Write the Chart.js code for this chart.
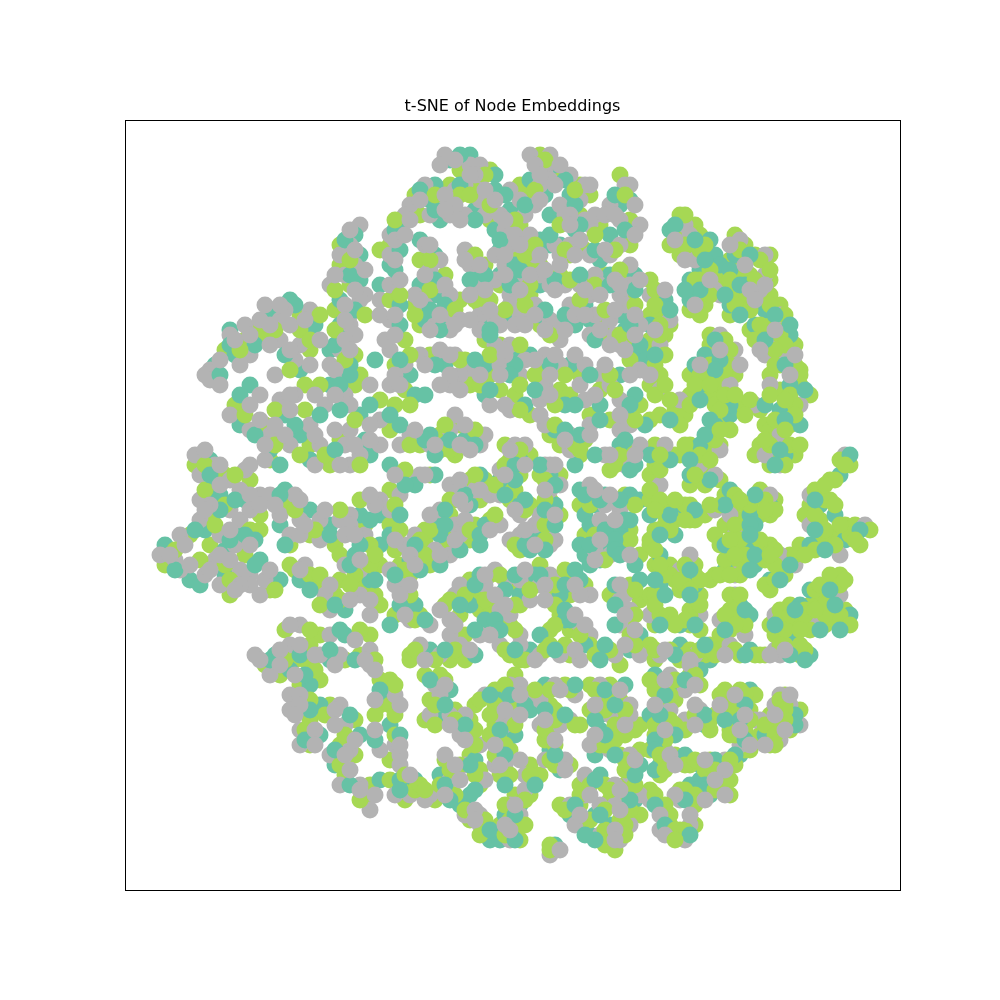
<!DOCTYPE html>
<html>
<head>
<meta charset="utf-8">
<title>t-SNE of Node Embeddings</title>
<script src="https://cdn.jsdelivr.net/npm/chart.js@4.4.1/dist/chart.umd.min.js"></script>
<style>
  html, body { margin: 0; padding: 0; background: #fff; }
  #wrap { width: 1000px; height: 1000px; }
</style>
</head>
<body>
<div id="wrap"><canvas id="tsne" width="1000" height="1000"></canvas></div>
<script>
// t-SNE coordinates, one list per node class
const tealNodes = [
  [-31,54],[-30,50],[-30,45],[-34,41],[-34,36],[-36,31],[-32,28],[-59,28],[-56,35],[-55,30],[-48,39],[-44,41],[-41,34],[-42,27],[-26,44],
  [-12,69],[-8,70],[-3,66],[-15,64],[-16,61],[-14,57],[-22,56],[-24,48],[-7,59],[-3,63],[0,59],[-3,55],[9,68],[4,65],[7,62],[12,62],[8,58],[13,55],[22,60],[24,61],[20,54],[18,49],[10,52],[-18,53],[-15,50],[-18,44],[-15,42],[-13,37],[-17,37],[-7,46],[-2,51],[-2,46],[1,45],[6,53],[6,44],[8,52],[-5,37],[-2,38],[0,37],[6,38],[10,34],[13,36],[15,40],[20,46],[25,46],[22,38],[16,37],[23,35],[26,30],[-20,26],[-13,28],[-5,28],[2,30],[4,30],[12,28],[22,26],[-23,55],[-22,40],
  [31,41],[28,36],[28,28],[32,55],[40,53],[41,50],[36,45],[38,47],[36,41],[42,48],[45,50],[44,47],[47,44],[44,40],[51,39],[56,34],[56,28],[49,36],[39,30],[37,28],
  [-52,24],[-54,16],[-48,11],[-45,18],[-42,14],[-40,9],[-36,24],[-30,18],[-29,13],[-28,10],[-60,9],[-60,3],[-58,2],[-61,-5],[-69,-8],[-64,-15],[-57,-9],[-53,1],[-54,-6],[-57,-14],[-50,-11],[-46,-15],[-45,3],[-46,-4],[-40,-1],[-36,-4],[-30,-2],[-26,-2],[-42,-15],[-33,-21],[-31,-10],[-28,-15],[-26,-8],[-33,-26],
  [-19,22],[-5,22],[3,20],[11,20],[18,20],[25,22],[-24,18],[-16,14],[-9,13],[-13,12],[9,15],[13,8],[22,12],[25,8],[2,9],[-2,5],[8,6],[9,0],[-24,8],[-15,6],[-24,-6],[-6,6],[-8,0],[2,0],[-15,-3],[-14,-6],[-5,-4],[-6,-8],[-20,-11],[-18,-13],[5,-6],[4,-9],[14,3],[18,2],[15,-2],[17,0],[21,1],[24,2],[26,1],[24,-3],[22,-5],[20,-4],[16,-4],[14,-8],[15,-10],[19,-8],[22,-8],[23,-7],[18,-11],[25,-12],[-19,-20],[-24,-24],[-6,-14],[-8,-20],[-5,-23],[2,-18],[5,-14],[14,-15],[10,-18],[11,-23],[6,-26],[26,-15],[26,-26],
  [27,16],[38,24],[41,16],[38,12],[36,6],[44,18],[44,20],[28,10],[28,-2],[33,-6],[56,24],[54,19],[58,16],[55,10],[34,-1],[44,3],[48,-2],[52,0],[49,-4],[48,-8],[43,-13],[49,-12],[66,6],[62,0],[65,-2],[67,-7],[60,-8],[52,-15],[30,-10],[35,-15],[37,-16],[34,-24],[30,-16],[46,-20],[48,-22],[60,-17],[68,-22],[58,-20],[54,-24],[57,-26],
  [-47,-30],[-44,-33],[-40,-36],[-38,-40],[-38,-46],[-30,-46],[-35,-52],[-26,-55],[-36,-31],[-26,-38],
  [-16,-29],[-7,-30],[4,-29],[15,-28],[24,-29],[-24,-44],[-22,-55],[-19,-55],[-12,-37],[-14,-43],[-10,-44],[-7,-51],[-14,-54],[-8,-58],[-10,-60],[-4,-67],[-2,-39],[-2,-50],[1,-46],[4,-41],[-1,-62],[2,-60],[-2,-67],[7,-36],[8,-42],[8,-49],[10,-53],[9,-68],[23,-36],[18,-42],[18,-45],[17,-50],[26,-52],[18,-54],[12,-62],[17,-62],[25,-59],[20,-64],[16,-66],
  [34,-28],[40,-31],[48,-29],[57,-29],[60,-30],[29,-34],[34,-36],[38,-33],[31,-40],[28,-42],[32,-46],[39,-44],[48,-37],[44,-42],[45,-44],[54,-44],[30,-52],[38,-52],[46,-50],[43,-57],[40,-56],[38,-55],[36,-56],[36,-59],[40,-58],[31,-62],
  // second pass, denser strands
  [-33,53],[-32,46],[-31,39],[-35,32],[-32,26],[-56,32],[-51,32],[-43,40],[-39,36],[-45,30],[-58,26],[-27,29],
  [-10,70],[-10,64],[-18,63],[-15,59],[-22,51],[-1,62],[-2,53],[-7,57],[11,65],[3,60],[13,60],[14,56],[21,62],[23,55],[17,51],[8,54],[-15,45],[-16,39],[-14,35],[-13,40],[-5,46],[1,48],[0,44],[2,47],[9,45],[-8,45],[-4,35],[-4,34],[7,39],[11,38],[14,46],[20,44],[25,43],[24,36],[17,33],[26,32],[-22,29],[-15,28],[-7,29],[1,28],[8,28],[16,26],[0,26],[-23,47],[-22,36],
  [32,39],[29,30],[33,56],[37,53],[39,49],[38,43],[35,43],[48,50],[46,44],[43,42],[46,38],[53,38],[56,36],[55,28],[51,33],[41,33],[42,29],[41,27],
  [-54,22],[-51,14],[-46,8],[-43,16],[-38,18],[-34,19],[-35,11],[-28,20],[-34,24],[-60,6],[-58,-1],[-63,-5],[-67,-13],[-62,-16],[-56,-7],[-55,1],[-53,-6],[-51,-12],[-51,-7],[-46,2],[-45,-8],[-36,-6],[-28,-3],[-40,-17],[-35,-20],[-32,-12],[-27,-15],[-30,-8],[-34,-25],
  [-17,22],[-4,23],[5,23],[13,20],[24,20],[18,17],[-22,16],[-17,13],[-12,13],[-7,12],[-15,10],[11,15],[14,14],[17,10],[23,13],[24,7],[1,8],[1,5],[6,8],[9,4],[7,-1],[9,-4],[-19,4],[-22,-2],[-21,4],[-9,2],[-1,2],[3,1],[-13,-1],[-19,-8],[-13,-4],[-6,-6],[-10,-9],[-14,-12],[-23,-14],[3,-8],[7,-9],[15,2],[19,2],[18,1],[22,1],[23,-3],[19,-5],[16,-8],[21,-7],[21,-9],[16,-12],[22,-10],[-22,-20],[-17,-23],[-10,-20],[-7,-16],[-1,-17],[-3,-23],[1,-14],[6,-14],[11,-16],[13,-13],[11,-21],[12,-23],[21,-16],[21,-20],[21,-24],[-2,-25],[-7,-25],
  [32,17],[38,21],[40,17],[39,14],[36,9],[40,5],[51,20],[32,9],[32,-2],[30,-6],[59,23],[55,17],[54,11],[53,8],[37,-1],[43,0],[49,2],[48,-4],[48,-6],[49,-10],[43,-8],[48,-13],[68,10],[61,1],[61,-5],[70,-5],[63,-9],[56,-12],[54,-15],[29,-15],[36,-13],[36,-18],[37,-24],[30,-24],[31,-18],[47,-21],[43,-25],[64,-17],[65,-20],[66,-25],[57,-21],[53,-24],[62,-25],
  [-48,-31],[-42,-30],[-36,-29],[-41,-34],[-40,-41],[-41,-47],[-32,-42],[-35,-49],[-32,-56],[-31,-31],[-26,-37],[-27,-47],
  [-13,-29],[1,-29],[9,-29],[19,-28],[18,-31],[-22,-46],[-22,-57],[-16,-35],[-13,-40],[-9,-44],[-8,-52],[-13,-56],[-7,-57],[-12,-59],[-4,-65],[-4,-38],[-2,-45],[-1,-50],[-1,-56],[3,-40],[0,-38],[1,-62],[1,-67],[5,-56],[7,-41],[11,-42],[9,-50],[13,-36],[19,-37],[21,-40],[17,-43],[19,-46],[21,-50],[25,-54],[17,-55],[13,-60],[18,-62],[24,-59],[17,-67],[15,-66],
  [33,-30],[39,-28],[47,-30],[56,-30],[59,-31],[35,-35],[31,-38],[30,-42],[33,-46],[39,-42],[29,-47],[47,-40],[43,-43],[46,-43],[47,-47],[57,-42],[57,-44],[51,-46],[29,-49],[29,-53],[35,-50],[41,-51],[45,-50],[39,-56],[39,-57],[37,-57],[35,-59],[29,-60],[31,-64],[36,-66]
];

const limeNodes = [
  [-34,52],[-34,48],[-32,44],[-35,39],[-34,34],[-31,30],[-30,26],[-57,31],[-53,33],[-50,36],[-49,34],[-42,38],[-40,31],[-26,51],
  [-10,67],[-4,67],[-12,64],[-19,62],[-12,60],[-18,58],[-24,52],[-7,63],[-4,57],[2,64],[2,56],[6,70],[10,66],[4,62],[14,64],[16,62],[14,58],[18,56],[22,66],[24,57],[24,52],[15,51],[12,50],[-18,49],[-13,46],[-19,40],[-10,41],[-18,36],[-8,49],[-5,48],[1,50],[-2,44],[4,48],[6,48],[10,46],[-6,40],[-5,33],[2,40],[4,42],[6,36],[12,37],[16,45],[19,46],[23,46],[24,42],[18,37],[19,34],[24,32],[-23,28],[-16,30],[-9,29],[-2,32],[0,29],[6,28],[14,26],[-4,26],[-24,41],
  [28,45],[30,41],[28,38],[30,38],[32,36],[28,33],[31,34],[28,31],[30,26],[34,58],[37,56],[32,52],[34,54],[38,54],[36,52],[34,50],[40,50],[37,43],[36,39],[39,40],[41,46],[45,54],[47,52],[44,49],[49,50],[52,50],[46,46],[43,44],[45,43],[48,46],[50,45],[52,45],[44,38],[47,41],[50,41],[52,42],[54,40],[55,36],[57,32],[56,30],[54,28],[58,27],[58,26],[50,34],[48,35],[52,36],[52,26],[40,34],[40,32],[41,30],[44,29],[43,31],[36,26],[39,26],[45,26],
  [-55,20],[-49,16],[-48,9],[-41,19],[-40,12],[-41,24],[-31,24],[-34,13],[-36,8],[-26,21],[-63,8],[-57,6],[-60,-2],[-64,-6],[-69,-12],[-60,-8],[-52,5],[-50,-2],[-53,-10],[-56,-18],[-48,-17],[-50,-5],[-44,0],[-44,-8],[-40,-6],[-35,-8],[-29,-4],[-43,-13],[-39,-16],[-35,-18],[-34,-15],[-34,-10],[-29,-16],[-26,-12],[-26,-20],[-45,-25],[-38,-26],[-28,-26],
  [-21,23],[-23,20],[-8,24],[-2,23],[1,22],[4,18],[10,23],[12,22],[16,18],[18,23],[23,19],[26,20],[20,17],[-24,15],[-18,12],[-14,14],[-10,16],[-8,14],[-11,10],[-14,11],[8,14],[10,12],[14,10],[15,13],[21,9],[24,11],[20,7],[-1,12],[4,10],[0,9],[2,6],[-1,3],[6,6],[10,6],[8,1],[10,-2],[8,-3],[-22,6],[-16,6],[-24,3],[-24,-4],[-23,-9],[-8,5],[-5,5],[-11,1],[-6,1],[0,1],[4,0],[-12,-2],[-17,-5],[-17,-7],[-12,-6],[-7,-4],[-4,-3],[-8,-7],[-13,-8],[-18,-10],[-22,-12],[-20,-14],[-16,-12],[4,-7],[6,-6],[2,-9],[6,-8],[14,0],[23,2],[24,-5],[15,-6],[20,-6],[26,-10],[-21,-18],[-18,-22],[-23,-22],[-13,-20],[-8,-15],[-4,-14],[-7,-18],[-10,-22],[-6,-21],[-4,-20],[2,-20],[0,-16],[4,-15],[6,-12],[12,-14],[15,-16],[12,-18],[8,-18],[10,-22],[12,-25],[8,-25],[20,-18],[24,-16],[26,-19],[24,-24],[0,-24],[-9,-26],
  [28,24],[28,17],[33,19],[35,18],[36,22],[40,22],[42,24],[43,17],[40,14],[42,12],[40,11],[36,12],[34,10],[39,7],[36,4],[38,5],[42,5],[46,20],[47,20],[50,19],[29,12],[33,10],[29,8],[28,6],[28,1],[31,-2],[34,-2],[31,-4],[29,-5],[28,-7],[54,23],[58,24],[60,22],[56,20],[51,16],[52,15],[56,16],[50,12],[49,10],[53,10],[57,10],[52,8],[32,0],[36,0],[39,-2],[43,2],[45,0],[47,0],[46,-3],[50,-2],[50,3],[53,1],[52,-2],[43,-4],[47,-5],[41,-6],[42,-8],[46,-9],[50,-9],[52,-8],[45,-12],[41,-14],[40,-15],[47,-12],[68,8],[64,5],[62,3],[60,0],[64,1],[59,-2],[62,-3],[67,-4],[69,-4],[70,-8],[65,-6],[64,-8],[62,-7],[58,-8],[56,-10],[54,-13],[52,-17],[55,-14],[28,-8],[29,-12],[32,-12],[33,-15],[37,-14],[37,-12],[34,-17],[38,-18],[37,-20],[36,-24],[31,-23],[29,-24],[28,-18],[38,-25],[44,-21],[46,-23],[44,-25],[42,-26],[66,-14],[63,-16],[62,-19],[64,-19],[67,-21],[67,-24],[64,-22],[60,-20],[56,-20],[55,-22],[52,-24],[56,-24],[58,-23],[63,-24],[53,-26],
  [-49,-32],[-46,-34],[-43,-31],[-40,-28],[-38,-35],[-42,-36],[-41,-40],[-40,-43],[-40,-48],[-36,-40],[-31,-43],[-34,-48],[-31,-50],[-33,-54],[-28,-56],[-29,-59],[-33,-31],[-30,-30],[-26,-35],[-26,-40],
  [-20,-30],[-20,-31],[-12,-31],[-9,-31],[0,-30],[2,-31],[8,-28],[12,-30],[16,-28],[22,-32],[-24,-35],[-24,-40],[-24,-51],[-24,-55],[-20,-56],[-21,-59],[-17,-34],[-13,-35],[-16,-39],[-17,-43],[-11,-41],[-8,-43],[-8,-46],[-8,-50],[-11,-54],[-13,-51],[-6,-53],[-6,-56],[-15,-59],[-14,-58],[-8,-63],[-5,-65],[-7,-40],[-3,-37],[-3,-44],[-2,-47],[-2,-54],[0,-49],[2,-40],[4,-38],[1,-34],[-2,-64],[1,-58],[4,-58],[1,-65],[2,-67],[4,-52],[6,-54],[11,-36],[8,-40],[8,-45],[7,-47],[9,-52],[12,-52],[14,-44],[8,-68],[16,-36],[20,-36],[22,-39],[16,-41],[22,-43],[26,-44],[23,-46],[18,-48],[22,-50],[26,-49],[23,-56],[19,-56],[14,-56],[14,-60],[10,-60],[15,-64],[20,-59],[23,-60],[26,-62],[22,-63],[20,-67],[21,-69],
  [28,-28],[29,-31],[36,-29],[34,-31],[39,-30],[40,-28],[42,-29],[46,-30],[50,-30],[51,-30],[55,-28],[59,-29],[30,-36],[36,-34],[38,-36],[30,-38],[33,-39],[30,-41],[30,-44],[29,-46],[34,-45],[36,-44],[38,-42],[40,-45],[42,-38],[46,-37],[49,-38],[45,-40],[41,-42],[46,-41],[48,-41],[44,-45],[47,-45],[46,-47],[48,-49],[55,-38],[52,-42],[54,-42],[58,-41],[56,-43],[56,-45],[52,-44],[50,-46],[52,-47],[52,-48],[28,-49],[33,-50],[32,-52],[30,-54],[36,-52],[40,-51],[42,-52],[45,-52],[47,-49],[40,-54],[44,-55],[44,-58],[42,-56],[34,-57],[37,-60],[28,-57],[30,-60],[32,-64],[32,-66],[34,-65],[37,-64],
  // second pass, denser strands
  [-32,49],[-35,43],[-35,35],[-33,29],[-29,38],[-54,31],[-47,35],[-42,35],[-40,33],[-44,27],[-38,38],
  [-5,66],[-15,62],[-10,62],[-23,57],[-4,60],[1,57],[-8,62],[7,69],[5,63],[13,63],[10,56],[17,54],[23,62],[21,51],[11,51],[-16,49],[-16,43],[-11,39],[-19,38],[-7,50],[-4,41],[3,50],[4,44],[5,52],[12,45],[-7,41],[-1,39],[3,40],[8,34],[14,41],[17,44],[22,47],[25,40],[19,39],[22,34],[24,29],[-20,30],[-10,29],[-4,30],[2,32],[11,26],[20,26],[5,26],[-22,42],[-21,33],
  [29,43],[29,40],[30,36],[30,34],[31,30],[29,28],[35,58],[35,52],[39,52],[38,51],[38,45],[37,45],[40,42],[38,38],[40,47],[46,51],[50,49],[44,45],[49,45],[52,47],[46,42],[45,40],[48,39],[52,40],[55,38],[54,34],[55,32],[53,31],[57,28],[50,36],[53,28],[49,33],[43,33],[40,28],[44,31],[38,26],[43,27],
  [-53,18],[-47,12],[-47,19],[-42,10],[-38,24],[-37,10],[-31,17],[-30,8],[-61,8],[-61,3],[-59,-4],[-67,-9],[-62,-11],[-57,-12],[-55,6],[-52,-5],[-56,-15],[-47,-17],[-57,0],[-43,-1],[-39,-5],[-34,-1],[-30,1],[-44,-12],[-40,-14],[-38,-14],[-38,-20],[-34,-19],[-31,-14],[-32,-16],[-28,-12],[-27,-18],[-28,-8],[-27,-10],[-40,-25],[-30,-25],
  [-20,20],[-6,24],[2,24],[9,20],[21,23],[25,17],[2,19],[-20,12],[-13,16],[-7,15],[-12,11],[9,16],[13,12],[14,11],[22,10],[21,8],[2,11],[-1,8],[1,3],[7,5],[7,1],[7,-4],[-21,7],[-23,0],[-22,-5],[-7,6],[-3,4],[3,-1],[-12,1],[-16,-5],[-18,-7],[-8,-5],[-3,-2],[-17,-10],[-21,-13],[1,-8],[7,-7],[16,0],[25,0],[17,-6],[24,-7],[19,-11],[-20,-18],[-19,-23],[-12,-19],[-9,-18],[-2,-14],[-5,-19],[1,-20],[4,-17],[9,-16],[11,-13],[9,-20],[9,-24],[14,-26],[25,-17],[25,-22],[24,-26],[1,-25],
  [29,22],[30,18],[34,16],[37,24],[36,20],[41,20],[42,19],[44,15],[38,10],[41,13],[35,12],[39,4],[43,22],[48,21],[47,18],[30,7],[28,3],[30,1],[33,-3],[36,-3],[32,-5],[56,22],[57,20],[53,17],[57,18],[52,12],[56,12],[51,13],[55,8],[35,0],[37,-3],[42,0],[45,2],[48,0],[51,1],[53,-1],[45,-4],[46,-7],[50,-7],[53,-9],[47,-10],[43,-11],[42,-14],[46,-14],[51,-11],[66,9],[65,5],[61,3],[63,1],[61,-2],[63,-5],[68,-6],[72,-5],[65,-8],[61,-9],[57,-10],[53,-12],[51,-16],[29,-9],[31,-14],[32,-14],[35,-12],[38,-15],[35,-16],[36,-21],[36,-22],[35,-23],[32,-22],[30,-22],[29,-18],[44,-18],[45,-21],[43,-22],[47,-24],[64,-14],[66,-16],[61,-17],[63,-20],[66,-22],[65,-23],[63,-22],[59,-21],[54,-21],[54,-23],[55,-25],[60,-25],[59,-22],
  [31,24],[32,21],[40,24],[42,15],[40,9],[37,6],[45,22],[30,10],[29,-1],[35,-3],[52,22],[55,21],[55,15],[58,12],[33,1],[40,0],[46,1],[51,-1],[44,-7],[52,-10],[45,-10],[44,-14],[67,8],[63,4],[65,0],[66,-4],[69,-7],[59,-10],[53,-15],[30,-12],[34,-15],[36,-17],[38,-20],[33,-24],[29,-20],[46,-18],[45,-24],[67,-15],[62,-16],[68,-24],[61,-21],[56,-22],[58,-25],
  [-45,-31],[-41,-31],[-39,-33],[-40,-39],[-41,-45],[-37,-42],[-33,-46],[-34,-52],[-30,-59],[-27,-31],[-27,-42],
  [-19,-29],[-15,-31],[-11,-29],[-1,-29],[3,-31],[7,-29],[11,-28],[17,-30],[20,-29],[25,-28],[-23,-36],[-23,-42],[-23,-46],[-21,-54],[-19,-57],[-18,-56],[-14,-34],[-15,-40],[-15,-44],[-11,-43],[-7,-45],[-7,-48],[-10,-52],[-12,-53],[-14,-56],[-7,-54],[-11,-58],[-17,-57],[-9,-61],[-5,-63],[-6,-66],[-6,-39],[-3,-40],[-4,-42],[-4,-46],[-1,-48],[-3,-50],[0,-54],[1,-44],[1,-40],[5,-37],[-1,-36],[-1,-60],[0,-63],[3,-59],[3,-64],[-1,-66],[4,-54],[8,-37],[12,-37],[9,-41],[9,-43],[7,-45],[9,-48],[8,-51],[13,-44],[8,-69],[17,-37],[21,-37],[20,-39],[23,-41],[19,-41],[21,-44],[25,-45],[21,-47],[19,-48],[23,-51],[23,-53],[25,-56],[20,-57],[16,-56],[14,-58],[11,-61],[16,-63],[19,-61],[24,-61],[23,-64],[19,-65],[19,-68],[23,-66],
  [29,-29],[32,-29],[35,-30],[38,-29],[41,-30],[45,-29],[49,-30],[54,-28],[58,-30],[58,-28],[28,-35],[33,-35],[37,-34],[29,-37],[32,-38],[32,-43],[29,-44],[33,-44],[35,-45],[37,-42],[40,-43],[31,-47],[43,-37],[47,-38],[44,-40],[42,-42],[45,-42],[48,-43],[47,-44],[45,-46],[44,-46],[54,-39],[55,-40],[55,-41],[55,-43],[53,-44],[51,-44],[53,-46],[53,-48],[30,-50],[31,-51],[31,-53],[35,-52],[37,-51],[39,-53],[41,-53],[44,-51],[43,-55],[41,-57],[35,-57],[37,-58],[29,-58],[31,-60],[32,-62],[33,-65],[35,-65],[33,-67]
];

const grayNodes = [
  [-30,56],[-32,52],[-34,50],[-31,48],[-33,46],[-36,44],[-29,42],[-30,41],[-32,38],[-32,36],[-31,34],[-34,31],[-36,28],[-34,26],[-60,27],[-61,26],[-56,34],[-53,36],[-52,30],[-54,28],[-50,37],[-49,40],[-46,33],[-46,37],[-40,39],[-42,32],[-43,29],[-47,26],[-26,41],
  [-13,70],[-14,68],[-8,68],[-6,68],[-6,66],[-9,64],[-11,63],[-17,64],[-20,60],[-14,61],[-12,58],[-16,58],[-21,58],[-24,54],[-24,50],[-9,58],[-6,61],[-5,58],[-2,58],[0,63],[2,61],[3,58],[-1,55],[4,70],[8,70],[7,67],[12,66],[6,64],[5,60],[8,65],[15,64],[14,61],[10,60],[11,58],[15,57],[16,56],[20,60],[23,64],[24,64],[22,57],[26,56],[22,52],[20,50],[16,50],[12,52],[9,52],[10,50],[-17,52],[-16,47],[-14,49],[-14,44],[-19,42],[-17,40],[-12,42],[-12,38],[-15,36],[-12,35],[-9,51],[-8,48],[-6,44],[-3,50],[0,52],[-1,48],[-3,45],[0,42],[3,46],[5,50],[4,54],[6,46],[8,44],[11,44],[-7,43],[-6,38],[-6,35],[-3,37],[0,40],[2,38],[-2,36],[5,40],[8,37],[9,36],[10,33],[12,40],[14,44],[16,42],[17,46],[18,44],[22,42],[24,48],[24,44],[23,40],[20,37],[17,38],[16,34],[21,34],[22,32],[26,36],[-24,31],[-21,28],[-18,30],[-14,31],[-11,30],[-8,27],[-3,32],[0,32],[3,29],[-2,28],[7,30],[10,28],[15,28],[18,26],[2,26],[-10,26],[-24,44],[-24,37],
  [28,42],[32,37],[30,32],[35,56],[36,54],[37,49],[39,44],[41,43],[46,53],[51,50],[42,42],[51,46],[50,43],[54,38],[54,30],[52,33],[51,30],[42,34],[45,31],[42,26],
  [-60,25],[-50,22],[-56,18],[-52,15],[-48,14],[-49,9],[-46,21],[-43,22],[-40,16],[-44,12],[-38,12],[-39,8],[-37,20],[-33,22],[-32,20],[-32,15],[-33,12],[-30,10],[-32,8],[-26,17],[-26,12],[-63,10],[-59,8],[-62,6],[-62,1],[-56,5],[-56,-1],[-62,-3],[-58,-6],[-66,-6],[-70,-10],[-66,-13],[-67,-11],[-59,-11],[-53,7],[-54,3],[-50,2],[-54,-3],[-55,-8],[-54,-13],[-58,-16],[-52,-14],[-49,-15],[-50,-18],[-52,-16],[-48,2],[-43,2],[-46,-2],[-44,-6],[-42,-3],[-38,-3],[-38,-7],[-34,-3],[-32,-2],[-32,-4],[-26,1],[-41,-12],[-37,-18],[-36,-21],[-33,-12],[-30,-13],[-30,-18],[-28,-22],[-29,-6],[-42,-24],[-36,-26],
  [-24,24],[-12,24],[-10,23],[-4,20],[0,19],[6,21],[7,24],[14,24],[15,21],[20,24],[22,21],[24,16],[22,15],[-22,12],[-20,14],[-12,15],[-11,18],[-6,12],[-5,14],[-16,12],[7,16],[12,14],[12,11],[16,16],[19,10],[26,12],[23,8],[1,12],[3,12],[-2,7],[0,6],[7,8],[8,8],[10,4],[8,3],[6,-2],[5,-4],[-20,5],[-18,6],[-22,2],[-24,-1],[-12,4],[-10,3],[-7,3],[-9,0],[-4,2],[-2,2],[2,-2],[-14,-1],[-19,-6],[-21,-8],[-11,-4],[-9,-3],[-2,-4],[-10,-6],[-12,-10],[-15,-9],[-24,-13],[-22,-15],[0,-7],[2,-6],[8,-5],[9,-7],[8,-8],[16,4],[19,0],[22,-1],[18,-3],[17,-9],[20,-10],[-23,-16],[-16,-24],[-20,-23],[-11,-18],[-10,-16],[-3,-13],[-5,-16],[-12,-23],[-12,-26],[-2,-21],[0,-22],[-1,-15],[2,-15],[8,-14],[10,-15],[16,-18],[14,-18],[6,-16],[4,-19],[14,-24],[16,-26],[22,-19],[23,-18],[24,-21],[22,-24],[2,-26],[-6,-26],
  [30,23],[34,21],[44,24],[42,11],[38,8],[41,6],[49,20],[31,12],[30,4],[36,-1],[52,24],[58,20],[54,14],[51,10],[54,8],[41,-1],[44,-2],[52,2],[45,-6],[44,-10],[54,-10],[45,-14],[67,10],[60,2],[60,-4],[71,-4],[66,-10],[55,-11],[57,-12],[34,-13],[36,-10],[38,-22],[28,-22],[45,-18],[42,-23],[47,-26],[65,-16],[66,-18],[62,-22],[53,-22],[60,-23],
  [-51,-30],[-48,-34],[-44,-28],[-40,-32],[-38,-30],[-44,-38],[-44,-41],[-42,-45],[-42,-48],[-34,-40],[-33,-44],[-36,-50],[-32,-49],[-34,-56],[-30,-56],[-28,-61],[-34,-30],[-28,-29],[-28,-32],[-26,-49],
  [-18,-28],[-14,-30],[-10,-28],[-2,-28],[2,-28],[6,-30],[10,-30],[14,-31],[21,-30],[26,-30],[-23,-38],[-23,-48],[-22,-52],[-23,-58],[-20,-58],[-22,-50],[-15,-36],[-14,-38],[-16,-42],[-12,-42],[-9,-42],[-10,-46],[-6,-48],[-9,-52],[-12,-55],[-13,-50],[-5,-55],[-16,-58],[-17,-59],[-9,-62],[-6,-64],[-6,-62],[-5,-38],[-2,-42],[-1,-44],[-3,-52],[-1,-52],[0,-42],[3,-38],[0,-36],[2,-36],[0,-60],[3,-57],[2,-62],[0,-67],[2,-51],[3,-54],[9,-36],[6,-39],[6,-44],[10,-44],[7,-51],[11,-51],[12,-43],[13,-38],[8,-70],[18,-36],[18,-38],[24,-40],[20,-42],[24,-42],[20,-46],[16,-48],[20,-49],[24,-50],[24,-54],[21,-56],[15,-54],[15,-58],[12,-60],[13,-64],[18,-60],[21,-60],[26,-58],[24,-64],[18,-66],[22,-67],
  [30,-30],[37,-30],[44,-28],[53,-29],[54,-30],[32,-34],[36,-32],[35,-37],[32,-41],[31,-43],[35,-43],[38,-41],[44,-38],[43,-40],[49,-43],[46,-48],[54,-38],[53,-40],[56,-40],[58,-44],[50,-43],[54,-47],[31,-49],[34,-51],[43,-51],[42,-54],[34,-59],[38,-58],[28,-59],[30,-65],[34,-66],[36,-64],[35,-67],
  // second pass, denser strands
  [-32,55],[-31,51],[-35,46],[-31,43],[-33,40],[-33,37],[-33,33],[-32,31],[-35,27],[-29,47],[-58,29],[-55,33],[-52,34],[-48,36],[-45,39],[-44,36],[-41,37],[-38,33],[-44,31],[-48,32],[-40,28],[-46,40],[-26,38],[-25,33],
  [-11,69],[-7,66],[-8,66],[-13,62],[-18,61],[-11,60],[-13,59],[-20,57],[-23,53],[-23,49],[-3,61],[-1,57],[1,54],[-5,63],[-10,57],[5,68],[10,68],[9,64],[6,61],[6,66],[16,64],[12,58],[12,56],[17,58],[19,58],[21,58],[25,60],[25,54],[19,51],[14,53],[13,50],[-16,52],[-17,46],[-13,44],[-18,41],[-14,38],[-10,37],[-16,35],[-11,36],[-9,49],[-6,48],[-5,43],[-1,50],[2,52],[-1,46],[2,43],[4,46],[6,50],[7,47],[9,43],[10,48],[-8,42],[-4,39],[-8,37],[1,36],[3,36],[5,38],[7,35],[11,35],[13,38],[15,38],[15,43],[18,42],[21,45],[22,44],[26,45],[25,38],[21,39],[18,35],[20,32],[25,34],[23,31],[26,27],[-23,26],[-17,28],[-12,30],[-12,26],[-6,26],[-1,30],[-1,31],[5,29],[9,30],[13,30],[19,28],[24,26],[-2,26],[8,26],[-22,45],[-23,38],[-23,34],[-21,54],
  [31,43],[29,35],[28,26],[33,53],[35,49],[40,45],[37,40],[44,52],[47,48],[51,44],[48,43],[49,41],[53,35],[57,30],[56,26],[50,31],[42,31],[38,28],[46,28],
  [-58,24],[-52,20],[-50,17],[-47,16],[-49,12],[-44,22],[-44,19],[-45,14],[-39,14],[-39,22],[-35,22],[-35,15],[-34,8],[-31,12],[-28,16],[-28,13],[-28,24],[-61,11],[-58,8],[-58,4],[-60,0],[-61,-1],[-56,-5],[-65,-8],[-68,-10],[-64,-12],[-61,-14],[-60,-13],[-58,-10],[-52,8],[-52,2],[-52,-1],[-52,-8],[-56,-11],[-54,-16],[-48,-13],[-55,-17],[-50,0],[-47,0],[-42,1],[-42,-6],[-41,-4],[-37,-1],[-33,-6],[-31,-6],[-27,0],[-28,2],[-42,-13],[-36,-16],[-32,-19],[-30,-11],[-28,-19],[-44,-24],[-31,-27],
  [-22,24],[-14,24],[-1,20],[8,22],[17,22],[22,18],[6,18],[-19,15],[-15,12],[-9,16],[-10,12],[-8,11],[11,13],[16,14],[20,10],[25,10],[0,11],[3,8],[-1,6],[9,8],[7,3],[9,-2],[-23,6],[-17,6],[-23,-7],[-10,5],[-6,3],[1,-1],[-10,1],[-16,-2],[-20,-10],[-11,-7],[-4,-5],[-14,-10],[-19,-12],[-20,-16],[5,-8],[3,-5],[17,3],[20,2],[21,-3],[18,-7],[17,-11],[24,-10],[-22,-18],[-21,-22],[-14,-21],[-11,-24],[-5,-14],[-3,-18],[-1,-20],[3,-13],[7,-16],[13,-16],[7,-19],[13,-22],[15,-24],[22,-16],[23,-22],[25,-25],[-4,-26],
  [-50,-31],[-46,-29],[-46,-32],[-42,-28],[-39,-30],[-35,-32],[-43,-34],[-42,-38],[-42,-40],[-43,-42],[-39,-45],[-39,-48],[-35,-41],[-35,-44],[-31,-47],[-33,-50],[-32,-53],[-30,-57],[-27,-58],[-29,-31],[-27,-33],[-27,-39],[-27,-45],
  [-17,-31],[-8,-29],[5,-31],[13,-29],[23,-28],[-22,-40],[-22,-48],[-20,-54],[-13,-36],[-12,-44],[-9,-47],[-11,-52],[-10,-55],[-13,-58],[-7,-61],[-7,-63],[-1,-41],[-3,-48],[-2,-52],[2,-42],[2,-38],[-1,-64],[1,-60],[0,-65],[10,-37],[7,-43],[9,-47],[11,-53],[10,-69],[22,-37],[17,-40],[23,-44],[17,-46],[25,-51],[22,-57],[16,-58],[14,-62],[22,-61],[21,-65],[21,-67],
  [31,-29],[36,-31],[43,-30],[52,-30],[55,-29],[31,-35],[37,-36],[29,-40],[31,-45],[37,-44],[37,-40],[45,-38],[42,-40],[47,-42],[46,-45],[48,-48],[56,-38],[53,-42],[55,-45],[51,-48],[32,-50],[33,-52],[39,-51],[43,-53],[41,-55],[43,-58],[33,-58],[39,-59],[30,-62],[31,-66],[36,-62]
];

const classColors = ['#66c2a5', '#a6d854', '#b3b3b3'];
const chartTitle = 't-SNE of Node Embeddings';

// mix the three classes so no colour sits fully on top (like one scatter call)
const groups = [tealNodes, limeNodes, grayNodes];
const nodes = [];
groups.forEach((pts, c) => {
  pts.forEach((p, i) => nodes.push({ x: p[0], y: p[1], c: c, k: (i + 0.5) / pts.length }));
});
nodes.sort((a, b) => a.k - b.k);

// axes box drawn round the plot area, no ticks
const frameBox = {
  id: 'frameBox',
  afterDraw(chart) {
    const a = chart.chartArea;
    const ctx = chart.ctx;
    ctx.save();
    ctx.strokeStyle = '#000';
    ctx.lineWidth = 1;
    ctx.strokeRect(Math.round(a.left) + 0.5, Math.round(a.top) + 0.5, Math.round(a.right - a.left), Math.round(a.bottom - a.top));
    ctx.restore();
  }
};

new Chart(document.getElementById('tsne'), {
  type: 'scatter',
  data: {
    datasets: [{
      label: 'nodes',
      data: nodes,
      backgroundColor: nodes.map(n => classColors[n.c]),
      borderWidth: 0,
      pointRadius: 8.5,
      pointHoverRadius: 8.5
    }]
  },
  options: {
    responsive: false,
    devicePixelRatio: 1,
    animation: false,
    events: [],
    layout: { padding: { left: 125, right: 100, top: 0, bottom: 110 } },
    plugins: {
      legend: { display: false },
      tooltip: { enabled: false },
      title: {
        display: true,
        text: chartTitle,
        color: '#000',
        font: { family: 'DejaVu Sans', size: 16, weight: 'normal' },
        padding: { top: 97, bottom: 3.8 }
      }
    },
    scales: {
      x: { type: 'linear', min: -77, max: 78, display: false },
      y: { type: 'linear', min: -77, max: 77, display: false }
    }
  },
  plugins: [frameBox]
});
</script>
</body>
</html>
